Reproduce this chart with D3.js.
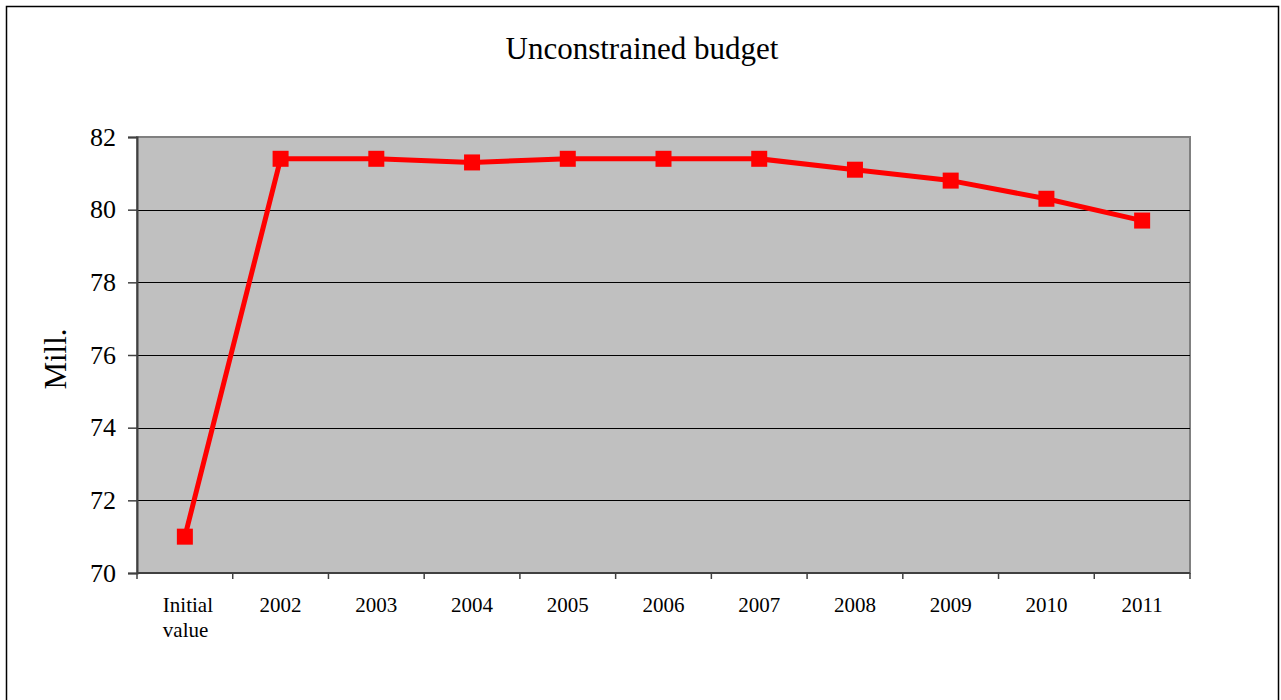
<!DOCTYPE html>
<html><head><meta charset="utf-8">
<script src="https://cdn.jsdelivr.net/npm/d3@7"></script>
<style>body{margin:0;background:#fff}svg{display:block}text{font-family:"Liberation Serif",serif}</style>
</head><body>
<script>
const categories = ["Initial value","2002","2003","2004","2005","2006","2007","2008","2009","2010","2011"];
const values = [71.0, 81.4, 81.4, 81.3, 81.4, 81.4, 81.4, 81.1, 80.8, 80.3, 79.7];
const yTicks = [70, 72, 74, 76, 78, 80, 82];
const title = "Unconstrained budget";
const yLabel = "Mill.";

const W = 1281, H = 700;
const m = {left: 137, top: 137, right: 1190, bottom: 573};
const svg = d3.select("body").append("svg").attr("width", W).attr("height", H);
svg.append("rect").attr("x", 6.5).attr("y", 6.5).attr("width", 1272).attr("height", 700)
  .attr("fill", "#fff").attr("stroke", "#000").attr("stroke-width", 1.5);

const x = d3.scaleBand().domain(categories).range([m.left, m.right]);
const y = d3.scaleLinear().domain([70, 82]).range([m.bottom, m.top]);

svg.append("rect").attr("x", m.left).attr("y", m.top).attr("width", m.right - m.left).attr("height", m.bottom - m.top)
  .attr("fill", "#c0c0c0").attr("stroke", "#808080").attr("stroke-width", 2);

svg.append("g").selectAll("line").data(yTicks.slice(1, -1)).join("line")
  .attr("x1", m.left).attr("x2", m.right).attr("y1", d => Math.round(y(d)) + 0.5).attr("y2", d => Math.round(y(d)) + 0.5)
  .attr("stroke", "#000").attr("stroke-width", 1);

// y axis
const ya = svg.append("g").attr("transform", `translate(${m.left},0)`)
  .call(d3.axisLeft(y).tickValues(yTicks).tickSize(9).tickPadding(12).tickFormat(d3.format("d")));
ya.attr("font-family", null).attr("font-size", null);
ya.select(".domain").attr("stroke", "#404040").attr("stroke-width", 2);
ya.selectAll(".tick line").attr("stroke", "#404040").attr("stroke-width", 1.5);
ya.selectAll("text").style("font-family", "'Liberation Serif', serif").style("font-size", "26px").attr("fill", "#000");

// x axis
const xa = svg.append("g").attr("transform", `translate(0,${m.bottom})`);
xa.append("line").attr("x1", m.left).attr("x2", m.right).attr("y1", 0).attr("y2", 0)
  .attr("stroke", "#404040").attr("stroke-width", 2);
const bounds = categories.map(c => x(c)).concat([m.right]);
xa.selectAll("line.t").data(bounds).join("line").attr("class", "t")
  .attr("x1", d => d).attr("x2", d => d).attr("y1", 0).attr("y2", 6)
  .attr("stroke", "#404040").attr("stroke-width", 1.5);
const xl = xa.selectAll("text").data(categories).join("text")
  .style("font-family", "'Liberation Serif', serif").style("font-size", "21px").attr("fill", "#000");
xl.each(function(d) {
  const t = d3.select(this);
  const cx = x(d) + x.bandwidth() / 2;
  const words = d.split(" ");
  if (words.length > 1) {
    t.attr("text-anchor", "start");
    words.forEach((w, i) => t.append("tspan").attr("x", cx - 22).attr("y", 39 + i * 25).text(w));
  } else {
    t.attr("text-anchor", "middle").attr("x", cx).attr("y", 39).text(d);
  }
});

// line
const pts = categories.map((c, i) => [x(c) + x.bandwidth() / 2, y(values[i])]);
svg.append("path").attr("d", d3.line()(pts)).attr("fill", "none").attr("stroke", "#ff0000").attr("stroke-width", 5)
  .attr("stroke-linejoin", "round");
svg.append("g").selectAll("rect").data(pts).join("rect")
  .attr("x", d => d[0] - 8).attr("y", d => d[1] - 8).attr("width", 16).attr("height", 16).attr("fill", "#ff0000");

svg.append("text").attr("x", 642).attr("y", 59).attr("text-anchor", "middle")
  .style("font-size", "31px").text(title);
svg.append("text").attr("transform", "translate(66,359) rotate(-90)").attr("text-anchor", "middle")
  .style("font-size", "31px").text(yLabel);
</script>
</body></html>
